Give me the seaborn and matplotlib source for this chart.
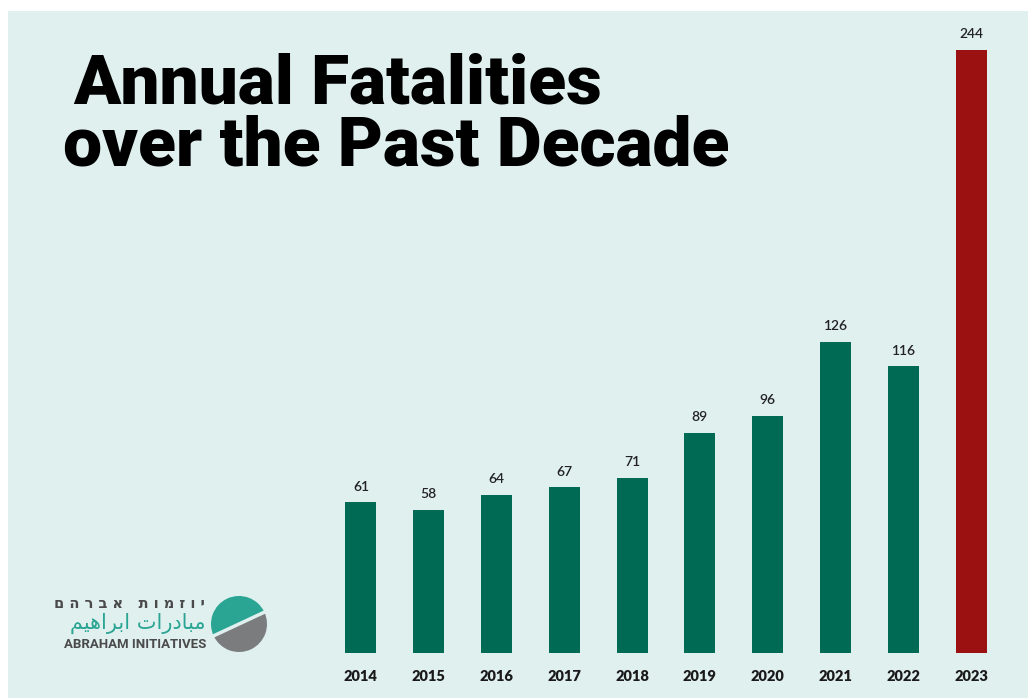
import matplotlib
matplotlib.use("Agg")
import matplotlib.pyplot as plt
import seaborn as sns
import pandas as pd
import numpy as np
from matplotlib.patches import Rectangle, Wedge

# Data
years = ["2014", "2015", "2016", "2017", "2018", "2019", "2020", "2021", "2022", "2023"]
fatalities = [61, 58, 64, 67, 71, 89, 96, 126, 116, 244]
highlight_year = "2023"

BG = "#e0f0ef"
GREEN = "#006a55"
RED = "#9b1010"

sns.set_theme(style="white")
plt.rcParams["font.family"] = ["Lato", "DejaVu Sans"]

df = pd.DataFrame({"year": years, "fatalities": fatalities})
palette = {y: (RED if y == highlight_year else GREEN) for y in years}

fig = plt.figure(figsize=(10.28, 6.98), dpi=100, facecolor="white")
# light panel behind everything
fig.patches.append(Rectangle((8 / 1028, 0), 1 - 8 / 1028, 1 - 11 / 698,
                             transform=fig.transFigure, facecolor=BG,
                             edgecolor="none", zorder=-10))

ax = fig.add_axes([327 / 1028, 45 / 698, 678 / 1028, 603 / 698])
ax.set_facecolor("none")

sns.barplot(data=df, x="year", y="fatalities", hue="year", palette=palette,
            width=0.46, legend=False, ax=ax, saturation=1,
            edgecolor="none", linewidth=0)

ax.set_ylim(0, 244)
ax.set_xlim(-0.5, len(years) - 0.5)
for c in ax.containers:
    ax.bar_label(c, padding=7, fontsize=10, color="#222222",
                 fontweight="semibold", clip_on=False)

sns.despine(ax=ax, left=True, bottom=True)
ax.set_yticks([])
ax.set_xlabel("")
ax.set_ylabel("")
ax.tick_params(axis="x", length=0, pad=12)
for lbl in ax.get_xticklabels():
    lbl.set_fontweight("heavy")
    lbl.set_fontsize(10.5)
    lbl.set_color("#1a1a1a")

# Title
title_kw = dict(fontsize=50, fontweight="black", color="black",
                family=["Roboto", "DejaVu Sans"], va="baseline", ha="left")
fig.text(73 / 1028, 1 - 103 / 698, "Annual Fatalities", **title_kw)
fig.text(63 / 1028, 1 - 165 / 698, "over the Past Decade", **title_kw)

# Logo
cx, cy, r = 239, 624, 28
logo_ax = fig.add_axes([0, 0, 1, 1], facecolor="none")
logo_ax.set_xlim(0, 1028)
logo_ax.set_ylim(698, 0)
logo_ax.axis("off")
logo_ax.add_patch(Wedge((cx, cy), r, 155, 335, facecolor="#2aa593", edgecolor="none"))
logo_ax.add_patch(Wedge((cx, cy), r, 335, 155, facecolor="#7a7c7e", edgecolor="none"))
ang = np.deg2rad(25)
logo_ax.plot([cx - r * np.cos(ang), cx + r * np.cos(ang)],
             [cy + r * np.sin(ang), cy - r * np.sin(ang)], color=BG, lw=2.5)

# Hebrew and Arabic written in visual order so they read correctly
hebrew = (" ".join("יוזמות") + "   " + " ".join("אברהם"))[::-1]
arabic = "\ufee3\ufe92\ufe8e\ufea9\ufead\ufe8d\ufe95 \ufe8d\ufe91\ufeae\ufe8d\ufeeb\ufef4\ufee2"[::-1]
logo_ax.text(205, 604, hebrew, ha="right", va="center", fontsize=10.5,
             fontweight="bold", color="#4a4a4a", family=["DejaVu Sans"])
logo_ax.text(205, 623, arabic, ha="right", va="center", fontsize=15,
             color="#2aa593", family=["DejaVu Sans"])
logo_ax.text(206, 645, "ABRAHAM INITIATIVES", ha="right", va="center",
             fontsize=9.5, fontweight="bold", color="#4a4a4a",
             family=["Roboto", "DejaVu Sans"], stretch="condensed")

fig.savefig("out.png", dpi=100, facecolor="white")
